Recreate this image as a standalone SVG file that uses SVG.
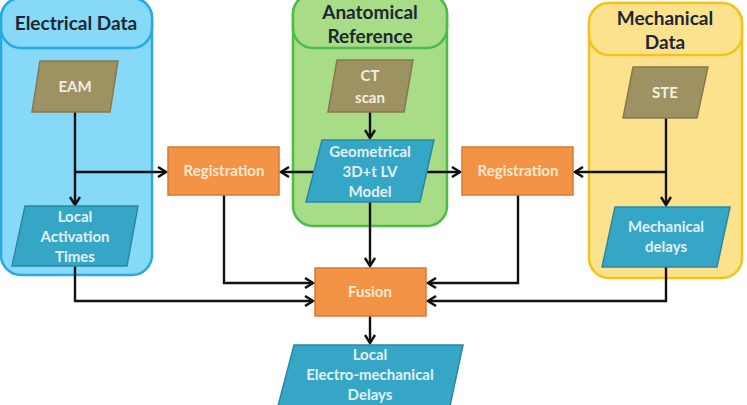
<svg xmlns="http://www.w3.org/2000/svg" width="747" height="405" viewBox="0 0 747 405">
<defs>
<marker id="arr" viewBox="0 0 12 12" refX="10" refY="6" markerWidth="12" markerHeight="12" markerUnits="userSpaceOnUse" orient="auto">
<path d="M2,1 L10,6 L2,11" fill="none" stroke="#111" stroke-width="2.4"/>
</marker>
</defs>
<style>
.lbl{font-family:Lato,"Liberation Sans",sans-serif;font-weight:bold;font-size:15px;text-anchor:middle;fill:#e2f1f5}
.hdr{font-family:Lato,"Liberation Sans",sans-serif;font-weight:bold;font-size:19px;text-anchor:middle;fill:#1c2733}
.olive{fill:#9e9262;stroke:#857a4f;stroke-width:1.5}
.teal{fill:#36a6c6;stroke:#2a88a4;stroke-width:1.5}
.orange{fill:#f39346;stroke:#d77a30;stroke-width:1.5}
.olbl{fill:#fbe8d2}
.wire{fill:none;stroke:#111;stroke-width:2.4}
</style>
<g id="electrical-data">
<rect x="1" y="-2" width="151" height="277" rx="20" fill="#86daf8" stroke="#27a9e6" stroke-width="2.5"/>
<rect x="1" y="-2" width="151" height="50" rx="20" fill="#86daf8" stroke="#27a9e6" stroke-width="2.5"/>
<text class="hdr" x="76" y="30">Electrical Data</text>
</g>
<g id="anatomical-reference">
<rect x="293" y="-6" width="154" height="232" rx="20" fill="#a8dc86" stroke="#4dbb4a" stroke-width="2.5"/>
<rect x="293" y="-6" width="154" height="54" rx="20" fill="#a8dc86" stroke="#4dbb4a" stroke-width="2.5"/>
<text class="hdr" x="370" y="19">Anatomical</text>
<text class="hdr" x="370" y="43">Reference</text>
</g>
<g id="mechanical-data">
<rect x="589" y="3" width="153" height="275" rx="20" fill="#fde28e" stroke="#f4c21c" stroke-width="2.5"/>
<rect x="589" y="3" width="153" height="52" rx="20" fill="#fde28e" stroke="#f4c21c" stroke-width="2.5"/>
<text class="hdr" x="665" y="25">Mechanical</text>
<text class="hdr" x="665" y="49">Data</text>
</g>
<g id="connectors">
<path class="wire" d="M75,112 V205" marker-end="url(#arr)"/>
<path class="wire" d="M75,172 H166" marker-end="url(#arr)"/>
<path class="wire" d="M370,112 V138" marker-end="url(#arr)"/>
<path class="wire" d="M314,172 H281" marker-end="url(#arr)"/>
<path class="wire" d="M426,172 H460" marker-end="url(#arr)"/>
<path class="wire" d="M666,118 V205" marker-end="url(#arr)"/>
<path class="wire" d="M666,172 H575" marker-end="url(#arr)"/>
<path class="wire" d="M370,202 V266" marker-end="url(#arr)"/>
<path class="wire" d="M224,195 V283 H313" marker-end="url(#arr)"/>
<path class="wire" d="M75,266 V301 H313" marker-end="url(#arr)"/>
<path class="wire" d="M518,195 V283 H428" marker-end="url(#arr)"/>
<path class="wire" d="M666,267 V301 H428" marker-end="url(#arr)"/>
<path class="wire" d="M370,316 V343" marker-end="url(#arr)"/>
</g>
<g id="eam">
<polygon class="olive" points="40,61 118,61 110,112 32,112"/>
<text class="lbl" x="75" y="92" style="fill:#f2eee2">EAM</text>
</g>
<g id="ct-scan">
<polygon class="olive" points="337,60 413,60 404,112 328,112"/>
<text class="lbl" x="370" y="81" style="fill:#f2eee2">CT</text>
<text class="lbl" x="370" y="103" style="fill:#f2eee2">scan</text>
</g>
<g id="ste">
<polygon class="olive" points="633,67 708,67 697,118 623,118"/>
<text class="lbl" x="665" y="98" style="fill:#f2eee2">STE</text>
</g>
<g id="local-activation-times">
<polygon class="teal" points="25,206 138,206 127,266 12,266"/>
<text class="lbl" x="75" y="222">Local</text>
<text class="lbl" x="75" y="242">Activation</text>
<text class="lbl" x="75" y="262">Times</text>
</g>
<g id="geometrical-model">
<polygon class="teal" points="322,140 434,140 420,202 306,202"/>
<text class="lbl" x="370" y="157">Geometrical</text>
<text class="lbl" x="370" y="177">3D+t LV</text>
<text class="lbl" x="370" y="197">Model</text>
</g>
<g id="mechanical-delays">
<polygon class="teal" points="615,207 730,207 717,267 602,267"/>
<text class="lbl" x="666" y="232">Mechanical</text>
<text class="lbl" x="666" y="252">delays</text>
</g>
<g id="registration-left">
<rect class="orange" x="168" y="147" width="111" height="48"/>
<text class="lbl olbl" x="224" y="176">Registration</text>
</g>
<g id="registration-right">
<rect class="orange" x="462" y="147" width="111" height="48"/>
<text class="lbl olbl" x="518" y="176">Registration</text>
</g>
<g id="fusion">
<rect class="orange" x="315" y="268" width="111" height="48"/>
<text class="lbl olbl" x="370" y="297">Fusion</text>
</g>
<g id="electro-mechanical-delays">
<polygon class="teal" points="294,345 463,345 450,406 278,406"/>
<text class="lbl" x="370" y="360">Local</text>
<text class="lbl" x="370" y="380">Electro-mechanical</text>
<text class="lbl" x="370" y="400">Delays</text>
</g>
</svg>
